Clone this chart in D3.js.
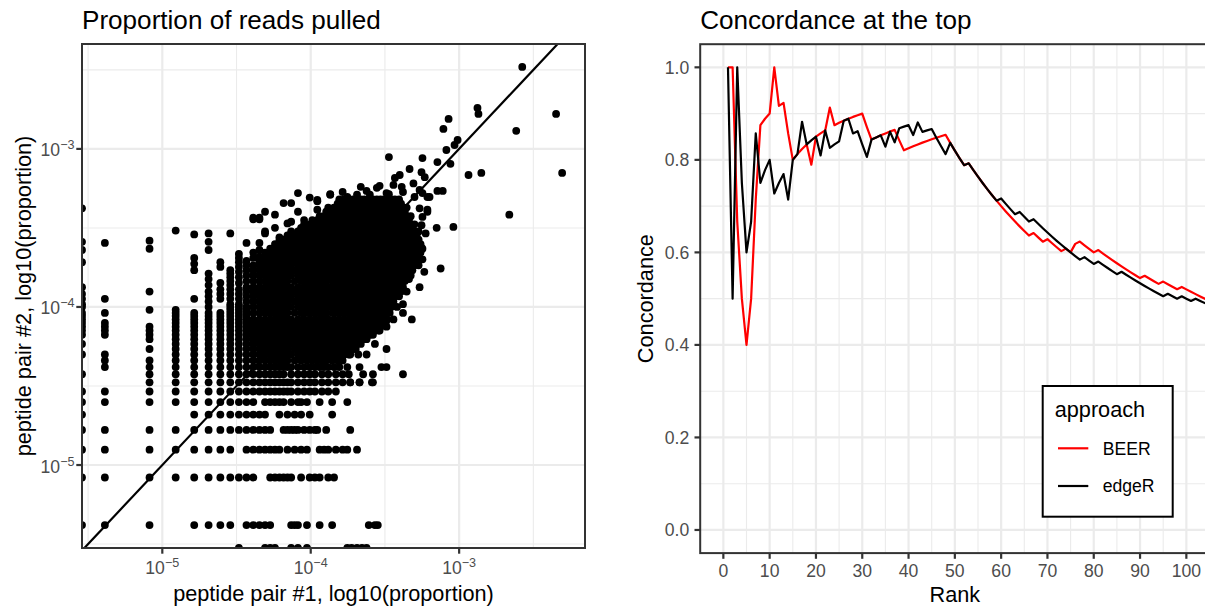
<!DOCTYPE html>
<html>
<head>
<meta charset="utf-8">
<script src="https://cdn.jsdelivr.net/npm/d3@7"></script>
<style>
  html, body { margin: 0; padding: 0; background: #ffffff; }
  svg { display: block; font-family: "Liberation Sans", Arial, Helvetica, sans-serif; }
</style>
</head>
<body>
<svg id="fig" width="1205" height="613"></svg>
<script>
// ---------------------------------------------------------------
// Panel A: proportion of reads pulled by two replicate peptide pairs
// ---------------------------------------------------------------

// Total reads in each library
const libSize1 = 243800;
const libSize2 = 239900;

// Peptides with few reads in pair #1: [count in pair #1, [counts in pair #2]]
const lowCount1Columns = [
  [0, [101, 62, 55, 46, 32, 29, 27, 25, 24, 22, 21, 20, 19, 18, 17, 16, 14, 12]],
  [1, [61, 27, 22, 19, 18, 17, 16, 12, 11, 10]],
  [2, [63, 56, 30, 23, 18, 17, 16, 15, 13, 11, 10]],
  [3, [73, 23, 22, 21, 20, 19, 18, 17, 16, 15, 14, 13, 12, 11, 10]],
  [4, [69, 49, 45, 41, 27, 22, 21, 20, 19, 18, 17, 16, 15, 14, 13, 12, 11, 10]],
  [5, [70, 62, 55, 39, 36, 33, 30, 28, 26, 24, 22, 21, 20, 19, 18, 17, 16, 15, 14, 13, 12, 11, 10]],
  [6, [46, 43, 34, 31, 29, 27, 22, 21, 20, 19, 18, 17, 16, 15, 14, 13, 12, 11, 10]],
  [7, [70, 41, 39, 37, 35, 33, 31, 29, 27, 25, 24, 23, 22, 21, 20, 19, 18, 17, 16, 15, 14, 13, 12, 11, 10]],
  [8, [52, 49, 46, 43, 40, 37, 34, 31, 29, 27, 25, 24, 23, 22, 21, 20, 19, 18, 17, 16, 15, 14, 13, 12, 11, 10]],
  [9, [61, 47, 44, 41, 38, 35, 32, 30, 28, 26, 24, 23, 22, 21, 20, 19, 18, 17, 16, 15, 14, 13, 12, 11, 10]]
];

// Peptides with few reads in pair #2: [count in pair #2, [counts in pair #1]]
const lowCount2Rows = [
  [0, [8, 12, 13, 14, 18, 20, 23, 43, 46, 50, 54, 58]],
  [1, [0, 1, 2, 4, 5, 6, 7, 9, 10, 11, 12, 13, 18, 19, 20, 23, 28, 34, 60, 66, 69]],
  [2, [0, 1, 2, 3, 4, 5, 6, 7, 8, 9, 10, 13, 14, 15, 16, 17, 18, 21, 24, 26, 28, 32, 35]],
  [3, [0, 1, 2, 3, 4, 5, 6, 7, 9, 10, 11, 12, 13, 14, 15, 17, 19, 21, 23, 28, 30, 32, 36, 40, 43, 50]],
  [4, [0, 1, 2, 3, 4, 5, 6, 7, 8, 9, 10, 11, 12, 13, 16, 17, 18, 19, 20, 22, 24, 26, 27, 31, 45]],
  [5, [0, 4, 5, 6, 7, 8, 9, 10, 11, 12, 15, 17, 19, 21, 24, 34]],
  [6, [0, 1, 2, 3, 4, 5, 6, 7, 8, 9, 10, 12, 13, 14, 15, 16, 18, 20, 21, 23, 28, 34, 43]],
  [7, [0, 1, 2, 3, 4, 5, 6, 7, 8, 9, 10, 11, 12, 13, 14, 15, 16, 17, 18, 20, 22, 24, 26, 29, 32, 36]],
  [8, [2, 3, 4, 5, 6, 7, 8, 9, 10, 11, 12, 13, 14, 15, 16, 17, 18, 20, 22, 24, 26, 29, 32, 36, 40, 45, 52, 64]],
  [9, [0, 2, 3, 4, 5, 6, 7, 8, 9, 10, 11, 12, 13, 14, 15, 16, 18, 20, 22, 24, 26, 29, 32, 36, 40, 44, 55, 64, 102]]
];

// Bulk of the library: [count in pair #2, [counts in pair #1]]
const bulkRows = [
  [10, [10,11,12,13,14,15,16,17,18,20,22,24,26,28,30,32,35,38]],
  [11, [10,11,12,13,14,15,16,17,19,21,23,25,27,29,31,34,37,40]],
  [12, [10,11,12,13,14,15,16,17,18,20,22,24,26,28,30,32,35,38,41,44]],
  [13, [10,11,12,13,14,15,16,17,19,21,23,25,27,29,31,34,37,40,43,46,49]],
  [14, [10,11,12,13,14,15,16,17,18,20,22,24,26,28,30,32,35,38,41,44,47,50,53]],
  [15, [10,11,12,13,14,15,16,17,19,21,23,25,27,29,31,34,37,40,43,46,49,52,55,58]],
  [16, [10,11,12,13,14,15,16,17,18,20,22,24,26,28,30,32,35,38,41,44,47,50,53,56,60,64]],
  [17, [10,11,12,13,14,15,16,17,19,21,23,25,27,29,31,34,37,40,43,46,49,52,55,58,62,66,70]],
  [18, [10,11,12,13,14,15,16,17,18,20,22,24,26,28,30,32,35,38,41,44,47,50,53,56,60,64,68,72]],
  [19, [10,11,12,13,14,15,16,17,19,21,23,25,27,29,31,34,37,40,43,46,49,52,55,58,62,66,70,74,78]],
  [20, [10,11,12,13,14,15,16,17,18,20,22,24,26,28,30,32,35,38,41,44,47,50,53,56,60,64,68,72,76,80]],
  [22, [10,11,12,13,14,15,16,17,19,21,23,25,27,29,31,34,37,40,43,46,49,52,55,58,62,66,70,74,78,83]],
  [24, [10,11,12,13,14,15,16,17,18,20,22,24,26,28,30,32,35,38,41,44,47,50,53,56,60,64,68,72,76,80,85]],
  [26, [10,11,12,13,14,15,16,17,19,21,23,25,27,29,31,34,37,40,43,46,49,52,55,58,62,66,70,74,78,83,88]],
  [28, [10,11,12,13,14,15,16,17,18,20,22,24,26,28,30,32,35,38,41,44,47,50,53,56,60,64,68,72,76,80,85,90,96]],
  [30, [10,11,12,13,14,15,16,17,19,21,23,25,27,29,31,34,37,40,43,46,49,52,55,58,62,66,70,74,78,83,88,93,99]],
  [32, [10,11,12,13,14,15,16,17,18,20,22,24,26,28,30,32,35,38,41,44,47,50,53,56,60,64,68,72,76,80,85,90,96,102]],
  [35, [10,11,12,13,14,15,16,17,19,21,23,25,27,29,31,34,37,40,43,46,49,52,55,58,62,66,70,74,78,83,88,93,99,105]],
  [38, [10,11,12,13,14,15,16,17,18,20,22,24,26,28,30,32,35,38,41,44,47,50,53,56,60,64,68,72,76,80,85,90,96,102,108,115]],
  [41, [10,11,12,13,14,15,16,17,19,21,23,25,27,29,31,34,37,40,43,46,49,52,55,58,62,66,70,74,78,83,88,93,99,105,112,118]],
  [44, [10,11,12,13,14,15,16,17,18,20,22,24,26,28,30,32,35,38,41,44,47,50,53,56,60,64,68,72,76,80,85,90,96,102,108,115,122,130]],
  [47, [11,12,13,14,15,16,17,19,21,23,25,27,29,31,34,37,40,43,46,49,52,55,58,62,66,70,74,78,83,88,93,99,105,112,118,126]],
  [50, [11,12,13,14,15,16,17,18,20,22,24,26,28,30,32,35,38,41,44,47,50,53,56,60,64,68,72,76,80,85,90,96,102,108,115,122,130]],
  [53, [12,13,14,15,16,17,19,21,23,25,27,29,31,34,37,40,43,46,49,52,55,58,62,66,70,74,78,83,88,93,99,105,112,118,126,134]],
  [56, [13,14,15,16,17,18,20,22,24,26,28,30,32,35,38,41,44,47,50,53,56,60,64,68,72,76,80,85,90,96,102,108,115,122,130,138]],
  [60, [14,15,16,17,19,21,23,25,27,29,31,34,37,40,43,46,49,52,55,58,62,66,70,74,78,83,88,93,99,105,112,118,126,134]],
  [64, [16,17,18,20,22,24,26,28,30,32,35,38,41,44,47,50,53,56,60,64,68,72,76,80,85,90,96,102,108,115,122,130]],
  [68, [17,19,21,23,25,27,29,31,34,37,40,43,46,49,52,55,58,62,66,70,74,78,83,88,93,99,105,112,118,126]],
  [72, [18,20,22,24,26,28,30,32,35,38,41,44,47,50,53,56,60,64,68,72,76,80,85,90,96,102,108,115,122,130]],
  [76, [21,23,25,27,29,31,34,37,40,43,46,49,52,55,58,62,66,70,74,78,83,88,93,99,105,112,118]],
  [80, [22,24,26,28,30,32,35,38,41,44,47,50,53,56,60,64,68,72,76,80,85,90,96,102,108,115,122]],
  [85, [25,27,29,31,34,37,40,43,46,49,52,55,58,62,66,70,74,78,83,88,93,99,105,112]],
  [90, [28,30,32,35,38,41,44,47,50,53,56,60,64,68,72,76,80,85,90,96,102,108,115]],
  [96, [31,34,37,40,43,46,49,52,55,58,62,66,70,74,78,83,88,93,99,105]],
  [102, [32,35,38,41,44,47,50,53,56,60,64,68,72,76,80,85,90,96,102,108]],
  [108, [37,40,43,46,49,52,55,58,62,66,70,74,78,83,88,93,99]],
  [115, [38,41,44,47,50,53,56,60,64,68,72,76,80,85,90,96]]
];

// Individual peptides away from the bulk: [count in pair #1, count in pair #2]
const sparsePeptides = [
  [649, 792], [324, 436], [329, 399], [207, 371], [191, 321], [238, 273], [227, 254], [200, 236],
  [1097, 399], [591, 312], [282, 164], [344, 169], [1205, 169], [531, 92],
  [82, 213], [138, 210], [174, 198], [213, 193], [113, 179], [136, 171], [143, 159], [97, 164],
  [90, 157], [53, 138], [71, 140], [100, 138], [174, 130], [189, 130], [172, 76], [223, 77],
  [183, 42], [132, 32], [154, 119], [82, 124], [122, 119],
  [33, 123], [20, 126], [16, 109], [18, 109], [27, 114], [43, 119], [50, 123], [61, 123],
  [79, 126], [102, 128], [132, 132], [12, 96], [10, 88], [11, 88], [22, 85], [18, 83], [30, 89],
  [149, 99], [138, 89], [14, 76], [12, 72], [15, 66], [11, 61], [11, 55], [10, 49], [132, 55],
  [138, 48], [10, 86], [11, 86], [20, 96], [27, 112], [27, 99], [33, 124], [68, 136], [17, 81],
  [15, 63], [12, 70], [10, 53], [138, 126], [149, 119], [132, 101], [149, 96], [136, 79],
  [125, 64], [136, 57],
  [102, 25], [102, 22], [117, 20], [83, 28], [93, 24], [64, 17], [71, 17], [79, 18], [55, 15],
  [61, 16], [79, 13], [47, 13], [51, 12], [45, 12], [79, 10], [73, 10], [43, 10], [52, 10],
  [63, 8], [52, 8], [45, 8],
  [58, 130], [88, 142], [120, 145], [40, 128], [24, 118], [14, 92], [145, 70], [142, 40],
  [112, 36], [108, 30], [96, 33], [88, 20], [66, 14], [58, 12]
];

// Axis breaks (powers of ten)
const logMajorExps = [-5, -4, -3];
const logMinorExps = [-5.5, -4.5, -3.5, -2.5];

// ---------------------------------------------------------------
// Panel B: concordance at the top between the two approaches
// ---------------------------------------------------------------
const ranks = [
  1,2,3,4,5,6,7,8,9,10,11,12,13,14,15,16,17,18,19,20,21,22,23,24,25,26,27,28,29,30,
  31,32,33,34,35,36,37,38,39,40,41,42,43,44,45,46,47,48,49,50,51,52,53,54,55,56,57,58,59,60,
  61,62,63,64,65,66,67,68,69,70,71,72,73,74,75,76,77,78,79,80,81,82,83,84,85,86,87,88,89,90,
  91,92,93,94,95,96,97,98,99,100,101,102,103,104,105
];
// Number of shared hits among the top-k of each replicate
const beerOverlap = [
  1,2,2,2,2,3,5,7,8,9, 11,11,12,12,12,13,14,15,15,17, 18,19,21,21,22,23,24,25,26,27,
  27,27,28,29,30,31,32,32,32,33, 34,35,36,37,38,39,40,41,41,41, 41,41,42,42,42,42,42,42,42,42,
  42,42,42,42,42,42,43,43,43,44, 44,44,44,45,45,47,48,48,48,48, 49,49,49,49,49,49,49,49,49,49,
  50,50,50,50,51,51,51,51,52,52, 52,52,52,52,52
];
const edgerOverlap = [
  1,1,3,3,3,4,6,6,7,8, 8,9,10,10,12,13,15,15,16,17, 17,19,19,20,21,23,24,24,25,25,
  25,27,28,29,29,31,31,33,34,35, 35,37,37,38,39,39,39,39,41,41, 41,41,42,42,42,42,42,42,42,43,
  43,43,43,44,44,44,45,45,45,45, 45,45,45,45,45,45,45,46,46,46, 47,47,47,47,47,48,48,48,48,48,
  48,48,48,48,48,49,49,49,50,50, 50,51,51,51,51
];
const approaches = ["BEER", "edgeR"];
const approachColors = ["#FF0000", "#000000"];
const rankLimits = [0, 100];
const concLimits = [0, 1];
const rankMajor = [0, 10, 20, 30, 40, 50, 60, 70, 80, 90, 100];
const rankMinor = [5, 15, 25, 35, 45, 55, 65, 75, 85, 95];
const concMajor = [0, 0.2, 0.4, 0.6, 0.8, 1.0];
const concMinor = [0.1, 0.3, 0.5, 0.7, 0.9];

// ---------------------------------------------------------------
// Drawing
// ---------------------------------------------------------------
const svg = d3.select("#fig");
svg.append("rect").attr("width", 1205).attr("height", 613).attr("fill", "#ffffff");

const GRID = "#EBEBEB", BORDER = "#333333", TICKTXT = "#4D4D4D";
const TICK_LEN = 5.7, TICK_FS = 17.6, SUP_FS = 12.6, TITLE_FS = 26.1, AXIS_FS = 21.7;

// ---------- Panel A ----------
const A = { left: 82, right: 585, top: 44, bottom: 548 };

const peptides = [];
lowCount1Columns.forEach(([c1, list]) => list.forEach(c2 => peptides.push([c1, c2])));
lowCount2Rows.forEach(([c2, list]) => list.forEach(c1 => peptides.push([c1, c2])));
bulkRows.forEach(([c2, list]) => list.forEach(c1 => peptides.push([c1, c2])));
sparsePeptides.forEach(p => peptides.push(p));
const props = peptides.map(([c1, c2]) => ({ p1: c1 / libSize1, p2: c2 / libSize2 }));

function expandedLog(values) {
  const e = d3.extent(values.filter(v => v > 0)).map(Math.log10);
  const pad = (e[1] - e[0]) * 0.05;
  return [Math.pow(10, e[0] - pad), Math.pow(10, e[1] + pad)];
}
const xA = d3.scaleLog().domain(expandedLog(props.map(d => d.p1))).range([A.left, A.right]);
const yA = d3.scaleLog().domain(expandedLog(props.map(d => d.p2))).range([A.bottom, A.top]);
// zero proportions sit on the panel edge
const px = v => (v > 0 ? xA(v) : A.left);
const py = v => (v > 0 ? yA(v) : A.bottom);

const gA = svg.append("g");
gA.append("defs").append("clipPath").attr("id", "clipA")
  .append("rect").attr("x", A.left).attr("y", A.top)
  .attr("width", A.right - A.left).attr("height", A.bottom - A.top);

const gridA = gA.append("g");
logMinorExps.forEach(e => {
  const v = Math.pow(10, e);
  const [d0, d1] = xA.domain();
  if (v > d0 && v < d1) gridA.append("line").attr("x1", xA(v)).attr("x2", xA(v))
    .attr("y1", A.top).attr("y2", A.bottom).attr("stroke", GRID).attr("stroke-width", 1.1);
  const [e0, e1] = yA.domain();
  if (v > e0 && v < e1) gridA.append("line").attr("y1", yA(v)).attr("y2", yA(v))
    .attr("x1", A.left).attr("x2", A.right).attr("stroke", GRID).attr("stroke-width", 1.1);
});
logMajorExps.forEach(e => {
  const v = Math.pow(10, e);
  gridA.append("line").attr("x1", xA(v)).attr("x2", xA(v))
    .attr("y1", A.top).attr("y2", A.bottom).attr("stroke", GRID).attr("stroke-width", 2.2);
  gridA.append("line").attr("y1", yA(v)).attr("y2", yA(v))
    .attr("x1", A.left).attr("x2", A.right).attr("stroke", GRID).attr("stroke-width", 2.2);
});

const plotA = gA.append("g").attr("clip-path", "url(#clipA)");
plotA.selectAll("circle").data(props).join("circle")
  .attr("cx", d => px(d.p1)).attr("cy", d => py(d.p2))
  .attr("r", 3.9).attr("fill", "#000000");

// identity line
const dA = [Math.min(xA.domain()[0], yA.domain()[0]), Math.max(xA.domain()[1], yA.domain()[1])];
plotA.append("line")
  .attr("x1", xA(dA[0])).attr("y1", yA(dA[0]))
  .attr("x2", xA(dA[1])).attr("y2", yA(dA[1]))
  .attr("stroke", "#000000").attr("stroke-width", 2.2);

gA.append("rect").attr("x", A.left).attr("y", A.top)
  .attr("width", A.right - A.left).attr("height", A.bottom - A.top)
  .attr("fill", "none").attr("stroke", BORDER).attr("stroke-width", 2);

// "10" with a raised exponent, minus drawn as a true minus sign
function powerLabel(g, exp, x, y, anchor) {
  const t = g.append("text").attr("x", x).attr("y", y).attr("text-anchor", anchor)
    .attr("fill", TICKTXT).attr("font-size", TICK_FS);
  t.append("tspan").text("10");
  t.append("tspan").attr("dy", -7).attr("font-size", SUP_FS)
    .text(String(exp).replace("-", "\u2212"));
}

const axA = gA.append("g");
logMajorExps.forEach(e => {
  const v = Math.pow(10, e);
  axA.append("line").attr("x1", xA(v)).attr("x2", xA(v))
    .attr("y1", A.bottom).attr("y2", A.bottom + TICK_LEN)
    .attr("stroke", BORDER).attr("stroke-width", 2.2);
  powerLabel(axA, e, xA(v), A.bottom + 26, "middle");
  axA.append("line").attr("y1", yA(v)).attr("y2", yA(v))
    .attr("x1", A.left - TICK_LEN).attr("x2", A.left)
    .attr("stroke", BORDER).attr("stroke-width", 2.2);
  powerLabel(axA, e, A.left - 7.5, yA(v) + 7.5, "end");
});

gA.append("text").attr("x", (A.left + A.right) / 2).attr("y", 601)
  .attr("text-anchor", "middle").attr("font-size", AXIS_FS).attr("fill", "#000")
  .text("peptide pair #1, log10(proportion)");
gA.append("text").attr("transform", `translate(31,${(A.top + A.bottom) / 2}) rotate(-90)`)
  .attr("text-anchor", "middle").attr("font-size", AXIS_FS).attr("fill", "#000")
  .text("peptide pair #2, log10(proportion)");
gA.append("text").attr("x", A.left).attr("y", 29)
  .attr("font-size", TITLE_FS).attr("fill", "#000")
  .text("Proportion of reads pulled");

// ---------- Panel B ----------
const B = { left: 700.2, right: 1209.5, top: 44.2, bottom: 553.1 };
const padR = (rankLimits[1] - rankLimits[0]) * 0.05;
const padC = (concLimits[1] - concLimits[0]) * 0.05;
const xB = d3.scaleLinear().domain([rankLimits[0] - padR, rankLimits[1] + padR]).range([B.left, B.right]);
const yB = d3.scaleLinear().domain([concLimits[0] - padC, concLimits[1] + padC]).range([B.bottom, B.top]);

const gB = svg.append("g");
gB.append("defs").append("clipPath").attr("id", "clipB")
  .append("rect").attr("x", B.left).attr("y", B.top)
  .attr("width", B.right - B.left).attr("height", B.bottom - B.top);

const gridB = gB.append("g");
rankMinor.forEach(r => gridB.append("line").attr("x1", xB(r)).attr("x2", xB(r))
  .attr("y1", B.top).attr("y2", B.bottom).attr("stroke", GRID).attr("stroke-width", 1.1));
concMinor.forEach(c => gridB.append("line").attr("y1", yB(c)).attr("y2", yB(c))
  .attr("x1", B.left).attr("x2", B.right).attr("stroke", GRID).attr("stroke-width", 1.1));
rankMajor.forEach(r => gridB.append("line").attr("x1", xB(r)).attr("x2", xB(r))
  .attr("y1", B.top).attr("y2", B.bottom).attr("stroke", GRID).attr("stroke-width", 2.2));
concMajor.forEach(c => gridB.append("line").attr("y1", yB(c)).attr("y2", yB(c))
  .attr("x1", B.left).attr("x2", B.right).attr("stroke", GRID).attr("stroke-width", 2.2));

const series = [
  { name: approaches[0], color: approachColors[0], values: ranks.map((r, i) => ({ r, c: beerOverlap[i] / r })) },
  { name: approaches[1], color: approachColors[1], values: ranks.map((r, i) => ({ r, c: edgerOverlap[i] / r })) }
];
const lineGen = d3.line().x(d => xB(d.r)).y(d => yB(d.c));
const plotB = gB.append("g").attr("clip-path", "url(#clipB)");
plotB.selectAll("path").data(series).join("path")
  .attr("d", d => lineGen(d.values))
  .attr("fill", "none").attr("stroke", d => d.color)
  .attr("stroke-width", 2.2).attr("stroke-linejoin", "round");

gB.append("rect").attr("x", B.left).attr("y", B.top)
  .attr("width", B.right - B.left).attr("height", B.bottom - B.top)
  .attr("fill", "none").attr("stroke", BORDER).attr("stroke-width", 2);

const axB = gB.append("g");
rankMajor.forEach(r => {
  axB.append("line").attr("x1", xB(r)).attr("x2", xB(r))
    .attr("y1", B.bottom).attr("y2", B.bottom + TICK_LEN)
    .attr("stroke", BORDER).attr("stroke-width", 2.2);
  axB.append("text").attr("x", xB(r)).attr("y", B.bottom + 23.5)
    .attr("text-anchor", "middle").attr("font-size", TICK_FS).attr("fill", TICKTXT)
    .text(d3.format("d")(r));
});
concMajor.forEach(c => {
  axB.append("line").attr("y1", yB(c)).attr("y2", yB(c))
    .attr("x1", B.left - TICK_LEN).attr("x2", B.left)
    .attr("stroke", BORDER).attr("stroke-width", 2.2);
  axB.append("text").attr("x", B.left - 11).attr("y", yB(c) + 6.3)
    .attr("text-anchor", "end").attr("font-size", TICK_FS).attr("fill", TICKTXT)
    .text(d3.format(".1f")(c));
});

gB.append("text").attr("x", (B.left + B.right) / 2).attr("y", 602)
  .attr("text-anchor", "middle").attr("font-size", AXIS_FS).attr("fill", "#000")
  .text("Rank");
gB.append("text").attr("transform", `translate(653,${(B.top + B.bottom) / 2}) rotate(-90)`)
  .attr("text-anchor", "middle").attr("font-size", AXIS_FS).attr("fill", "#000")
  .text("Concordance");
gB.append("text").attr("x", B.left).attr("y", 29)
  .attr("font-size", TITLE_FS).attr("fill", "#000")
  .text("Concordance at the top");

// legend
const leg = gB.append("g").attr("transform", "translate(1042.7,386)");
leg.append("rect").attr("width", 130).attr("height", 130.7)
  .attr("fill", "#ffffff").attr("stroke", "#000000").attr("stroke-width", 2);
leg.append("text").attr("x", 12).attr("y", 31).attr("font-size", AXIS_FS).attr("fill", "#000")
  .text("approach");
series.forEach((s, i) => {
  const cy = 62.3 + i * 37.7;
  leg.append("line").attr("x1", 15.3).attr("x2", 45.6).attr("y1", cy).attr("y2", cy)
    .attr("stroke", s.color).attr("stroke-width", 2.2);
  leg.append("text").attr("x", 60).attr("y", cy + 6.3).attr("font-size", TICK_FS).attr("fill", "#000")
    .text(s.name);
});
</script>
</body>
</html>
